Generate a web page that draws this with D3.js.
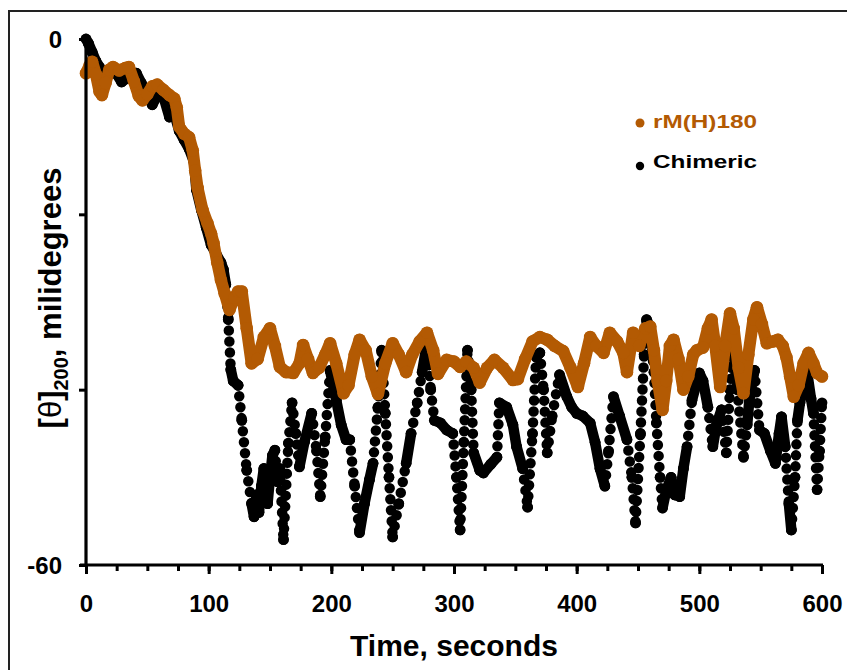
<!DOCTYPE html>
<html><head><meta charset="utf-8">
<script src="https://cdn.jsdelivr.net/npm/d3@7"></script>
<style>
html,body{margin:0;padding:0;background:#fff;}
svg{display:block;font-family:"Liberation Sans",Arial,sans-serif;}
</style></head>
<body>
<script>
// ---- data ----
const xTicksMajor = [0,100,200,300,400,500,600];
const yTicks = [0,-20,-40,-60];
const yTickLabels = ["0","","","-60"];
const seriesNames = ["rM(H)180","Chimeric"];
const seriesColors = ["#B35A03","#000000"];

// rM(H)180 : [time (s), value (millidegrees)]
const rMH180 = [[0,-3.9],[3,-3.0],[5,-2.6],[8,-4],[11,-6],[13,-6.4],[16,-5],[19,-3.5],[22,-3.2],[27,-3.6],[32,-3.3],[35,-3.2],[39,-4.8],[43,-6.5],[46,-7],[50,-6.3],[54,-5.4],[58,-5.2],[63,-5.8],[68,-6.4],[72,-6.8],[74,-7.8],[76,-10],[80,-10.8],[84,-11.2],[87,-12.7],[89,-15],[91,-17],[95,-19.5],[99,-21],[102,-22.2],[104,-23.3],[107,-25.5],[110,-27.5],[113,-29],[117,-30.9],[121,-29.5],[124,-28.8],[127,-28.8],[131,-33],[135,-37],[140,-36.5],[145,-34],[150,-33],[154,-35],[158,-37.4],[163,-38],[169,-38.1],[174,-37],[177,-34.9],[181,-36.5],[185,-38.1],[190,-37.5],[195,-36],[199,-34.7],[204,-37],[210,-40.4],[214,-39.5],[219,-36],[223,-34.3],[228,-35.5],[233,-38.5],[238,-40.5],[244,-37],[250,-34.7],[255,-36],[261,-38],[266,-36],[272,-34.5],[278,-33.5],[283,-35.5],[287,-38.2],[294,-36.6],[300,-36.8],[305,-37.4],[310,-36.8],[316,-37.5],[321,-39.2],[327,-37.5],[333,-36.6],[340,-37.5],[348,-38.9],[352,-38.8],[358,-36.5],[364,-34.5],[370,-34],[376,-34.3],[382,-35],[389,-35.6],[395,-37.5],[401,-39.7],[406,-37],[411,-34],[416,-35],[422,-35.8],[427,-33.5],[433,-34.5],[438,-35.8],[441,-38],[446,-33.5],[451,-35],[456,-33],[460,-32.8],[463,-35.5],[466,-39],[470,-42.3],[473,-39],[476,-35],[479,-34.3],[483,-36.5],[487,-40],[491,-38.5],[495,-36],[498,-35.5],[503,-35.2],[507,-33],[510,-32],[513,-35],[517,-39.7],[521,-35],[525,-31.3],[528,-33],[532,-37.5],[536,-40.4],[540,-36],[544,-32],[547,-30.6],[551,-32.5],[555,-34.7],[560,-34.5],[564,-34.3],[568,-35],[571,-36.3],[574,-38.5],[577,-40.8],[581,-39.5],[585,-37],[589,-35.8],[593,-37],[596,-38.1],[600,-38.5]];

// Chimeric : [time (s), value (millidegrees)]
const chimeric = [[0,0],[2,-0.5],[5,-1.5],[8,-2.5],[11,-3.2],[15,-4],[21,-3.3],[25,-4],[29,-4.9],[33,-4.5],[37,-3.8],[41,-3.9],[45,-5],[50,-6.5],[54,-7.5],[58,-6.5],[63,-6.5],[68,-8.9],[72,-8.5],[76,-10.5],[80,-11.5],[84,-12.5],[88,-14],[90,-17.2],[94,-19.5],[98,-21.5],[102,-23.5],[106,-24.5],[110,-25.5],[112,-26.3],[114,-28],[116,-32],[118,-37.7],[120,-39],[124,-39.5],[127,-43.5],[131,-49.2],[135,-53],[137,-54.5],[139,-52],[141,-54],[143,-51],[145,-49],[146,-51],[148,-53],[150,-50],[152,-47.5],[154,-46.9],[156,-50.5],[158,-49],[161,-57.1],[165,-46.1],[168,-41.5],[171,-45],[174,-48.8],[178,-46],[184,-42.7],[188,-47],[191,-52.2],[195,-45.4],[199,-37.8],[204,-41.2],[208,-44],[212,-45.7],[215,-45.7],[219,-51],[223,-56.3],[227,-53],[231,-50.3],[234,-48.4],[238,-42],[241,-35.5],[244,-42.7],[247,-50],[250,-56.8],[255,-53],[261,-48.4],[265,-45],[270,-41.5],[274,-38],[278,-34.7],[281,-40],[284,-43.5],[289,-43.8],[294,-44.6],[299,-45],[302,-50],[305,-56],[308,-46],[311,-35.5],[314,-40],[316,-47.2],[321,-49.2],[324,-49.5],[330,-48.5],[335,-47.7],[337,-41.5],[343,-42],[348,-44],[351,-46.5],[356,-49],[360,-53.4],[364,-45],[367,-36.3],[370,-35.8],[373,-40],[376,-47.2],[380,-43],[386,-38.3],[392,-40.8],[396,-42],[400,-42.7],[405,-43],[411,-43.8],[415,-46],[419,-49],[423,-51],[426,-47],[430,-40.8],[435,-43],[441,-45.7],[445,-50],[448,-55.2],[452,-45],[455,-36],[457,-32],[460,-33],[463,-38],[465,-43.8],[468,-50],[470,-53.5],[473,-51.5],[477,-50],[480,-52],[484,-52.2],[487,-49],[490,-46.5],[494,-41.2],[500,-38.1],[503,-39],[507,-42],[511,-46.5],[514,-44],[518,-42.3],[522,-47.2],[525,-40],[527,-35.8],[531,-40],[536,-47.7],[539,-44],[541,-40.8],[545,-37.8],[549,-44.6],[553,-45],[558,-47],[562,-48.4],[565,-45],[567,-43.1],[570,-46.5],[573,-53],[575,-56],[578,-50],[580,-43.5],[582,-41.5],[585,-39.5],[588,-38.1],[591,-41],[593,-42.7],[596,-51.4],[598,-47],[600,-41.5]];

// ---- chart ----
const W = 847, H = 670;
const svg = d3.select("body").append("svg").attr("width", W).attr("height", H);

svg.append("rect").attr("x", 9).attr("y", 11).attr("width", W + 20).attr("height", H + 20)
  .attr("fill", "none").attr("stroke", "#222").attr("stroke-width", 2);

const x = d3.scaleLinear().domain([0, 600]).range([86, 822]);
const y = d3.scaleLinear().domain([-60, 0]).range([565, 39]);

// Chimeric (black) – segments, dotted when very steep
const blackG = svg.append("g");
for (let i = 1; i < chimeric.length; i++) {
  const a = chimeric[i - 1], b = chimeric[i];
  const x1 = x(a[0]), y1 = y(a[1]), x2 = x(b[0]), y2 = y(b[1]);
  const steep = Math.abs(y2 - y1) > 4.5 * Math.abs(x2 - x1) && Math.abs(y2 - y1) > 30;
  blackG.append("line")
    .attr("x1", x1).attr("y1", y1).attr("x2", x2).attr("y2", y2)
    .attr("stroke", seriesColors[1]).attr("stroke-width", 10.5)
    .attr("stroke-linecap", "round")
    .attr("stroke-dasharray", steep ? "0 11" : null);
}
blackG.selectAll("circle").data(chimeric).join("circle")
  .attr("cx", d => x(d[0])).attr("cy", d => y(d[1])).attr("r", 5.4)
  .attr("fill", seriesColors[1]);

// rM(H)180 (orange)
const line = d3.line().x(d => x(d[0])).y(d => y(d[1]));
const orangeG = svg.append("g");
orangeG.append("path").datum(rMH180).attr("d", line)
  .attr("fill", "none").attr("stroke", seriesColors[0]).attr("stroke-width", 12)
  .attr("stroke-linejoin", "round").attr("stroke-linecap", "round");
orangeG.selectAll("circle").data(rMH180).join("circle")
  .attr("cx", d => x(d[0])).attr("cy", d => y(d[1])).attr("r", 6.3)
  .attr("fill", seriesColors[0]);

// axes
const minorAxis = d3.axisBottom(x).tickValues(d3.range(0, 601, 25)).tickSize(6).tickFormat("");
const gMinor = svg.append("g").attr("transform", "translate(0,565)").call(minorAxis);
gMinor.select(".domain").remove();
gMinor.selectAll("line").attr("stroke", "#000").attr("stroke-width", 3);

const xAxis = d3.axisBottom(x).tickValues(xTicksMajor).tickSize(9).tickSizeOuter(0).tickFormat(d3.format("d"));
const gx = svg.append("g").attr("transform", "translate(0,565)").call(xAxis);
gx.select(".domain").attr("stroke", "#000").attr("stroke-width", 3.2)
  .attr("d", "M80,0H823");
gx.selectAll("line").attr("stroke", "#000").attr("stroke-width", 3);
gx.selectAll("text").attr("y", 47).attr("dy", null)
  .attr("font-size", 24).attr("font-weight", "bold").attr("fill", "#000")
  .attr("font-family", "'Liberation Sans', Arial, sans-serif");

const yAxis = d3.axisLeft(y).tickValues(yTicks).tickSize(7).tickSizeOuter(0)
  .tickFormat((d, i) => yTickLabels[i]);
const gy = svg.append("g").attr("transform", "translate(86,0)").call(yAxis);
gy.select(".domain").attr("stroke", "#000").attr("stroke-width", 3.2)
  .attr("d", "M0,38V566");
gy.selectAll("line").attr("stroke", "#000").attr("stroke-width", 3);
gy.selectAll("text").attr("x", -24).attr("dy", "0.36em")
  .attr("font-size", 24).attr("font-weight", "bold").attr("fill", "#000")
  .attr("font-family", "'Liberation Sans', Arial, sans-serif");

// axis titles
svg.append("text").attr("x", 454).attr("y", 656).attr("text-anchor", "middle")
  .attr("font-size", 30).attr("font-weight", "bold").text("Time, seconds");

const yl = svg.append("text").attr("transform", "translate(61,298) rotate(-90)")
  .attr("text-anchor", "middle").attr("font-size", 31).attr("font-weight", "bold");
yl.append("tspan").text("[");
yl.append("tspan").attr("font-weight", "normal").text("θ");
yl.append("tspan").text("]");
yl.append("tspan").attr("font-size", 20).attr("dy", 7).text("200");
yl.append("tspan").attr("dy", -7).text(", milidegrees");

// legend
const legend = [
  {name: seriesNames[0], color: seriesColors[0], cy: 123, ty: 128, r: 4.5},
  {name: seriesNames[1], color: seriesColors[1], cy: 166, ty: 168, r: 4.2}
];
legend.forEach(l => {
  svg.append("circle").attr("cx", 640).attr("cy", l.cy).attr("r", l.r).attr("fill", l.color);
  svg.append("text").attr("x", 653).attr("y", l.ty).attr("font-size", 18).attr("font-weight", "bold")
    .attr("fill", l.color).attr("textLength", 104).attr("lengthAdjust", "spacingAndGlyphs").text(l.name);
});
</script>
</body></html>
